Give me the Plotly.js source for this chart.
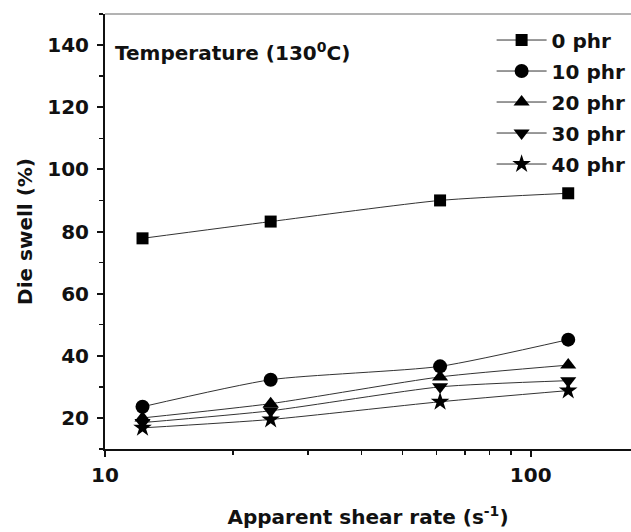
<!DOCTYPE html>
<html>
<head>
<meta charset="utf-8">
<script src="https://cdn.plot.ly/plotly-3.0.1.min.js"></script>
<style>html,body{margin:0;padding:0;background:#fff;}#chart{width:631px;height:532px;}</style>
</head>
<body>
<div id="chart"></div>
<script>
// Data
const shearRate = [12.25, 24.5, 61.25, 122.5];
const seriesNames = ["0 phr", "10 phr", "20 phr", "30 phr", "40 phr"];
const swell0 = [77.8, 83.2, 90.0, 92.3];
const swell10 = [23.6, 32.3, 36.6, 45.2];
const swell20 = [20.0, 24.6, 33.2, 37.0];
const swell30 = [18.5, 22.3, 30.0, 32.0];
const swell40 = [16.8, 19.5, 25.2, 28.8];
const yTicks = [20, 40, 60, 80, 100, 120, 140];
const xTicks = [10, 100];
const xMinor = [20, 30, 40, 50, 60, 70, 80, 90];

const series = [swell0, swell10, swell20, swell30, swell40];
const symbols = ["square", "circle", "triangle-up", "triangle-down", "star"];
const sizes = [12, 14, 14, 14, 14];
const FONT = "DejaVu Sans, Verdana, sans-serif";
const INK = "#111";

const traces = series.map((ys, i) => ({
  x: shearRate, y: ys, name: seriesNames[i], legendgroup: "g" + i,
  type: "scatter", mode: "lines+markers",
  line: {color: "#333", width: 1, shape: "spline", smoothing: 0.6},
  marker: {symbol: symbols[i], size: sizes[i], color: "#000"}
}));

const layout = {
  width: 631, height: 532,
  margin: {l: 105, r: 0, t: 14, b: 83},
  paper_bgcolor: "#fff", plot_bgcolor: "#fff",
  font: {family: FONT, color: INK, size: 20, weight: "bold"},
  showlegend: true,
  legend: {
    x: 0.735, y: 0.985, xanchor: "left", yanchor: "top",
    font: {family: FONT, size: 20, color: INK, weight: "bold"},
    bgcolor: "rgba(0,0,0,0)", itemwidth: 50, tracegroupgap: 2, traceorder: "grouped"
  },
  xaxis: {
    type: "log", range: [1, 2.2356],
    tickvals: xTicks, ticktext: xTicks.map(String),
    ticks: "outside", ticklen: 6, tickwidth: 2, tickcolor: INK,
    showline: true, linecolor: INK, linewidth: 2,
    showgrid: false, zeroline: false, ticklabelstandoff: 1,
    tickfont: {family: FONT, size: 20, color: INK, weight: "bold"},
    minor: {tickvals: xMinor, ticks: "outside", ticklen: 4, tickwidth: 1.5, tickcolor: INK, showgrid: false},
    title: {text: "Apparent shear rate (s<sup>-1</sup>)", font: {family: FONT, size: 20, color: INK, weight: "bold"}, standoff: 24}
  },
  yaxis: {
    range: [10, 150],
    tickvals: yTicks,
    ticks: "outside", ticklen: 6, tickwidth: 2, tickcolor: INK,
    showline: true, linecolor: INK, linewidth: 2,
    showgrid: false, zeroline: false, ticklabelstandoff: 4,
    tickfont: {family: FONT, size: 20, color: INK, weight: "bold"},
    minor: {dtick: 10, tick0: 0, ticks: "outside", ticklen: 4, tickwidth: 1.5, tickcolor: INK, showgrid: false},
    title: {text: "Die swell (%)", font: {family: FONT, size: 20, color: INK, weight: "bold"}, standoff: 9}
  },
  shapes: [
    {type: "line", xref: "paper", yref: "paper", x0: 0, x1: 1, y0: 1, y1: 1, line: {color: "#666", width: 1}}
  ],
  annotations: [
    {xref: "paper", yref: "paper", x: 0.015, y: 0.913, xanchor: "left", yanchor: "middle",
     text: "Temperature (130<sup>0</sup>C)", showarrow: false,
     font: {family: FONT, size: 20, color: INK, weight: "bold"}}
  ]
};

Plotly.newPlot("chart", traces, layout, {displayModeBar: false, staticPlot: true});
</script>
</body>
</html>
